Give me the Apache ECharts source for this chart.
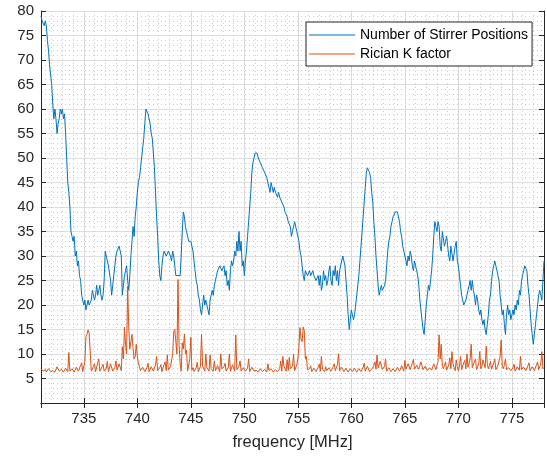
<!DOCTYPE html>
<html>
<head>
<meta charset="utf-8">
<script src="https://cdn.jsdelivr.net/npm/echarts@6/dist/echarts.min.js"></script>
<style>
  html, body { margin: 0; padding: 0; background: #fff; }
  #main { width: 547px; height: 456px; }
</style>
</head>
<body>
<div id="main"></div>
<script>
// frequency grid: 731.0 .. 778.0 MHz, 0.1 MHz step (one row = 1 MHz)
var freqStart = 731;
var freqStep = 0.1;

// Number of Stirrer Positions
var stirrerPositions = [
    79, 78, 78, 77, 78, 77, 74, 72, 69, 67,
    65, 61, 58, 60, 58, 55, 57, 58, 60, 59,
    60, 58, 59, 55, 50, 45, 43, 40, 35, 34,
    33, 34, 30, 31, 28, 29, 26, 25, 22, 21,
    20, 21, 19, 19, 21, 20, 20, 21, 23, 22,
    21, 22, 24, 22, 23, 24, 22, 21, 22, 25,
    31, 30, 30, 28, 28, 25, 22, 24, 26, 28,
    30, 31, 31, 32, 32, 30, 22, 24, 26, 27,
    28, 25, 23, 26, 30, 33, 36, 34, 38, 40,
    43, 45, 46, 48, 50, 52, 54, 57, 60, 60,
    59, 58, 57, 55, 54, 51, 48, 43, 38, 34,
    29, 26, 25, 28, 30, 31, 31, 30, 30, 31,
    31, 30, 29, 31, 30, 28, 26, 26, 26, 26,
    26, 30, 35, 39, 38, 36, 35, 34, 33, 33,
    33, 32, 31, 29, 27, 25, 24, 22, 21, 19,
    18, 20, 22, 20, 21, 20, 19, 18, 21, 22,
    23, 22, 24, 25, 26, 27, 27, 28, 28, 27,
    27, 28, 26, 27, 24, 25, 23, 27, 29, 28,
    29, 31, 30, 33, 31, 35, 31, 33, 28, 29,
    26, 29, 31, 34, 37, 40, 43, 47, 49, 50,
    51, 51, 51, 50, 50, 49, 49, 48, 48, 47,
    47, 46, 46, 44, 43, 45, 45, 43, 44, 43,
    43, 42, 43, 42, 42, 41, 41, 40, 39, 39,
    38, 37, 37, 36, 34, 35, 36, 37, 37, 35,
    34, 33, 31, 30, 28, 26, 25, 27, 27, 26,
    26, 27, 26, 26, 27, 26, 26, 25, 25, 26,
    24, 26, 23, 24, 27, 25, 26, 24, 25, 27,
    28, 25, 24, 27, 26, 28, 25, 27, 24, 27,
    27, 29, 30, 29, 28, 25, 22, 18, 15, 17,
    19, 18, 17, 18, 20, 22, 24, 26, 29, 32,
    35, 38, 41, 44, 47, 48, 48, 47, 46, 43,
    41, 37, 34, 30, 27, 24, 22, 23, 24, 23,
    23, 24, 25, 28, 31, 33, 34, 36, 37, 38,
    38, 39, 39, 39, 38, 37, 35, 34, 32, 31,
    31, 29, 28, 30, 29, 31, 30, 28, 27, 29,
    28, 27, 26, 24, 21, 19, 17, 15, 14, 17,
    20, 22, 24, 23, 23, 27, 30, 34, 37, 36,
    35, 37, 36, 32, 31, 35, 35, 32, 33, 34,
    34, 30, 29, 32, 32, 29, 29, 32, 33, 29,
    28, 26, 24, 22, 21, 20, 20, 21, 22, 23,
    24, 25, 23, 25, 23, 22, 20, 22, 21, 19,
    18, 19, 17, 16, 17, 15, 14, 16, 18, 21,
    22, 25, 27, 28, 29, 28, 27, 26, 25, 22,
    20, 18, 19, 16, 14, 18, 20, 18, 19, 17,
    17, 19, 18, 20, 19, 21, 20, 23, 22, 25,
    26, 27, 28, 28, 27, 24, 22, 19, 16, 14,
    12, 14, 16, 18, 20, 22, 23, 22, 21, 25,
    29
];

// Rician K factor
var ricianK = [
    7.0, 6.8, 6.5, 6.6, 6.8, 6.3, 6.4, 7.0, 7.2, 6.4,
    6.4, 6.6, 6.9, 6.3, 6.3, 7.4, 7.4, 6.5, 6.5, 6.9,
    6.9, 6.3, 6.4, 7.1, 7.3, 6.4, 10.3, 6.5, 6.5, 7.0,
    7.1, 6.3, 6.4, 7.3, 7.6, 6.5, 6.6, 7.7, 8.2, 6.4,
    6.4, 8.5, 13.5, 14.0, 14.9, 14.2, 14.5, 6.5, 6.5, 7.5,
    8.0, 6.4, 6.6, 8.2, 9.0, 6.5, 6.8, 7.4, 7.9, 6.5,
    6.5, 7.0, 8.5, 6.4, 6.7, 8.0, 7.8, 6.5, 6.4, 7.2,
    8.6, 6.7, 6.9, 8.0, 8.2, 6.6, 11.5, 9.0, 15.5, 12.0,
    10.0, 23.8, 15.5, 11.0, 12.5, 14.0, 11.2, 9.0, 9.5, 12.0,
    9.5, 8.2, 8.0, 6.6, 6.6, 7.3, 7.5, 6.4, 6.4, 7.2,
    8.1, 6.4, 6.5, 7.4, 7.4, 6.5, 6.6, 7.8, 9.5, 6.6,
    6.7, 7.2, 7.8, 6.4, 6.4, 7.9, 8.4, 6.6, 9.8, 6.7,
    6.8, 7.4, 7.2, 10.0, 14.5, 15.0, 15.0, 10.0, 25.2, 12.0,
    8.0, 6.5, 12.3, 11.0, 14.1, 10.0, 10.8, 6.5, 6.6, 9.0,
    13.4, 6.7, 7.2, 6.4, 6.5, 7.2, 8.3, 6.4, 6.7, 7.5,
    14.0, 7.5, 7.0, 6.5, 10.0, 7.2, 6.8, 6.5, 9.8, 7.0,
    7.3, 6.5, 8.6, 6.6, 6.5, 7.6, 7.9, 6.4, 10.0, 7.0,
    6.6, 7.4, 8.1, 6.5, 6.9, 7.3, 10.0, 6.5, 6.6, 7.8,
    7.5, 6.5, 13.9, 6.8, 6.7, 7.5, 8.6, 6.5, 6.4, 7.2,
    7.5, 6.5, 6.6, 7.1, 9.0, 6.4, 6.5, 7.3, 7.0, 6.5,
    6.3, 6.7, 6.8, 6.3, 6.4, 7.0, 7.3, 6.4, 6.5, 6.9,
    6.9, 6.3, 8.0, 6.6, 6.4, 7.0, 6.9, 6.3, 6.3, 6.8,
    7.2, 6.4, 6.4, 7.0, 8.6, 6.5, 9.5, 7.5, 7.0, 6.5,
    8.8, 6.6, 9.3, 7.0, 6.7, 7.5, 10.0, 6.6, 6.8, 7.8,
    9.0, 11.5, 15.4, 13.0, 12.5, 15.5, 14.8, 9.0, 9.5, 6.8,
    6.8, 7.0, 7.6, 6.4, 6.5, 7.1, 7.2, 6.4, 6.6, 7.3,
    7.9, 6.5, 9.5, 6.9, 6.7, 6.4, 7.4, 6.6, 6.5, 7.2,
    7.1, 6.5, 6.4, 7.4, 8.0, 6.6, 6.9, 7.8, 10.1, 6.6,
    6.7, 7.3, 7.6, 6.4, 6.5, 7.1, 7.0, 6.3, 6.3, 7.0,
    7.4, 6.4, 6.5, 7.1, 6.9, 6.3, 6.4, 7.0, 7.2, 6.4,
    6.5, 7.2, 8.1, 6.5, 6.6, 7.5, 7.3, 6.4, 6.4, 6.9,
    7.0, 7.6, 8.4, 6.9, 9.8, 7.2, 7.6, 8.5, 8.8, 6.8,
    6.7, 7.5, 9.0, 6.5, 6.6, 7.2, 7.6, 6.4, 6.4, 7.0,
    7.1, 6.4, 6.5, 7.3, 7.4, 6.5, 6.6, 7.6, 7.2, 6.5,
    8.7, 6.9, 6.6, 8.0, 8.3, 6.8, 7.0, 8.2, 8.9, 6.9,
    6.7, 7.7, 8.1, 6.9, 7.3, 8.4, 8.6, 6.8, 6.8, 7.5,
    7.9, 6.6, 6.5, 7.2, 7.6, 6.7, 6.8, 8.0, 8.2, 6.8,
    6.9, 8.5, 13.9, 9.0, 12.0, 7.5, 7.0, 7.2, 8.4, 6.7,
    6.7, 7.8, 9.2, 7.0, 10.5, 8.0, 7.2, 6.6, 8.8, 7.4,
    6.6, 7.5, 9.5, 6.8, 7.0, 8.2, 8.7, 7.0, 10.0, 7.3,
    7.4, 9.0, 12.0, 7.2, 7.0, 8.4, 9.0, 6.8, 6.8, 8.0,
    10.5, 7.0, 7.5, 8.8, 9.2, 7.2, 11.6, 8.0, 7.0, 7.6,
    8.5, 6.9, 6.7, 8.2, 9.0, 6.8, 7.1, 7.7, 8.0, 9.5,
    12.9, 7.5, 7.0, 7.8, 9.0, 6.8, 6.7, 7.2, 7.6, 6.6,
    6.6, 7.2, 7.9, 6.5, 6.8, 7.4, 7.4, 6.7, 9.5, 6.8,
    6.8, 7.3, 7.5, 6.6, 6.6, 7.6, 8.2, 6.6, 6.7, 7.4,
    7.8, 6.6, 6.9, 7.8, 8.4, 6.8, 7.0, 8.0, 10.5, 7.0,
    7.2
];

var seriesNames = ['Number of Stirrer Positions', 'Rician K factor'];

function pairs(values) {
    return values.map(function (v, i) {
        return [+(freqStart + i * freqStep).toFixed(1), v];
    });
}

var axisColor = '#262626';
var fontFamily = '"Liberation Sans", Arial, Helvetica, sans-serif';
var lineIcon = 'path://M0,0H46V1.1H0Z';

var chart = echarts.init(document.getElementById('main'));

var option = {
    animation: false,
    backgroundColor: '#fff',
    grid: {
        left: 41,
        right: 3,
        top: 11,
        bottom: 49
    },
    legend: {
        data: seriesNames,
        orient: 'vertical',
        left: 306,
        top: 22,
        icon: lineIcon,
        itemWidth: 46,
        itemHeight: 14,
        itemGap: 5,
        padding: [6, 4, 5, 3],
        backgroundColor: '#fff',
        borderColor: axisColor,
        borderWidth: 1,
        borderRadius: 0,
        textStyle: {
            color: '#000',
            fontSize: 14,
            fontFamily: fontFamily
        }
    },
    xAxis: [
        {
            // main bottom axis
            type: 'value',
            position: 'bottom',
            min: 731,
            max: 778,
            splitNumber: 10,
            name: 'frequency [MHz]',
            nameLocation: 'middle',
            nameGap: 31,
            nameTextStyle: { color: axisColor, fontSize: 16.5, fontFamily: fontFamily },
            axisLine: { show: true, lineStyle: { color: axisColor, width: 1 } },
            axisTick: { show: true, inside: true, length: 5, lineStyle: { color: axisColor } },
            axisLabel: {
                color: axisColor, fontSize: 15, fontFamily: fontFamily, margin: 8,
                showMinLabel: false, showMaxLabel: false
            },
            splitLine: { show: true, lineStyle: { color: '#dedede', width: 1 } }
        },
        {
            // top box edge with ticks
            type: 'value',
            position: 'top',
            min: 731,
            max: 778,
            splitNumber: 10,
            axisLine: { show: true, lineStyle: { color: axisColor, width: 1 } },
            axisTick: { show: true, inside: true, length: 5, lineStyle: { color: axisColor } },
            axisLabel: { show: false },
            splitLine: { show: false }
        },
        {
            // minor grid, 1 MHz
            type: 'value',
            position: 'bottom',
            min: 731,
            max: 778,
            interval: 1,
            axisLine: { show: false },
            axisTick: { show: false },
            axisLabel: { show: false },
            splitLine: { show: true, lineStyle: { color: '#cdcdcd', width: 1, type: [1, 3] } }
        }
    ],
    yAxis: [
        {
            type: 'value',
            position: 'left',
            min: 0,
            max: 80,
            interval: 5,
            axisLine: { show: true, lineStyle: { color: axisColor, width: 1 } },
            axisTick: { show: true, inside: true, length: 5, lineStyle: { color: axisColor } },
            axisLabel: {
                color: axisColor, fontSize: 15, fontFamily: fontFamily, margin: 7,
                showMinLabel: false
            },
            splitLine: { show: true, lineStyle: { color: '#dedede', width: 1 } },
            minorTick: { show: false, splitNumber: 5 },
            minorSplitLine: { show: true, lineStyle: { color: '#cdcdcd', width: 1, type: [1, 3] } }
        },
        {
            type: 'value',
            position: 'right',
            min: 0,
            max: 80,
            interval: 5,
            axisLine: { show: true, lineStyle: { color: axisColor, width: 1 } },
            axisTick: { show: true, inside: true, length: 5, lineStyle: { color: axisColor } },
            axisLabel: { show: false },
            splitLine: { show: false }
        }
    ],
    series: [
        {
            name: seriesNames[0],
            type: 'line',
            xAxisIndex: 0,
            yAxisIndex: 0,
            data: pairs(stirrerPositions),
            showSymbol: false,
            symbol: 'none',
            color: '#0072BD',
            lineStyle: { color: '#0072BD', width: 1 },
            z: 3
        },
        {
            name: seriesNames[1],
            type: 'line',
            xAxisIndex: 0,
            yAxisIndex: 0,
            data: pairs(ricianK),
            showSymbol: false,
            symbol: 'none',
            color: '#D95319',
            lineStyle: { color: '#D95319', width: 1 },
            z: 4
        }
    ]
};

chart.setOption(option);

window.addEventListener('resize', function () {
    chart.resize();
});
</script>
</body>
</html>
